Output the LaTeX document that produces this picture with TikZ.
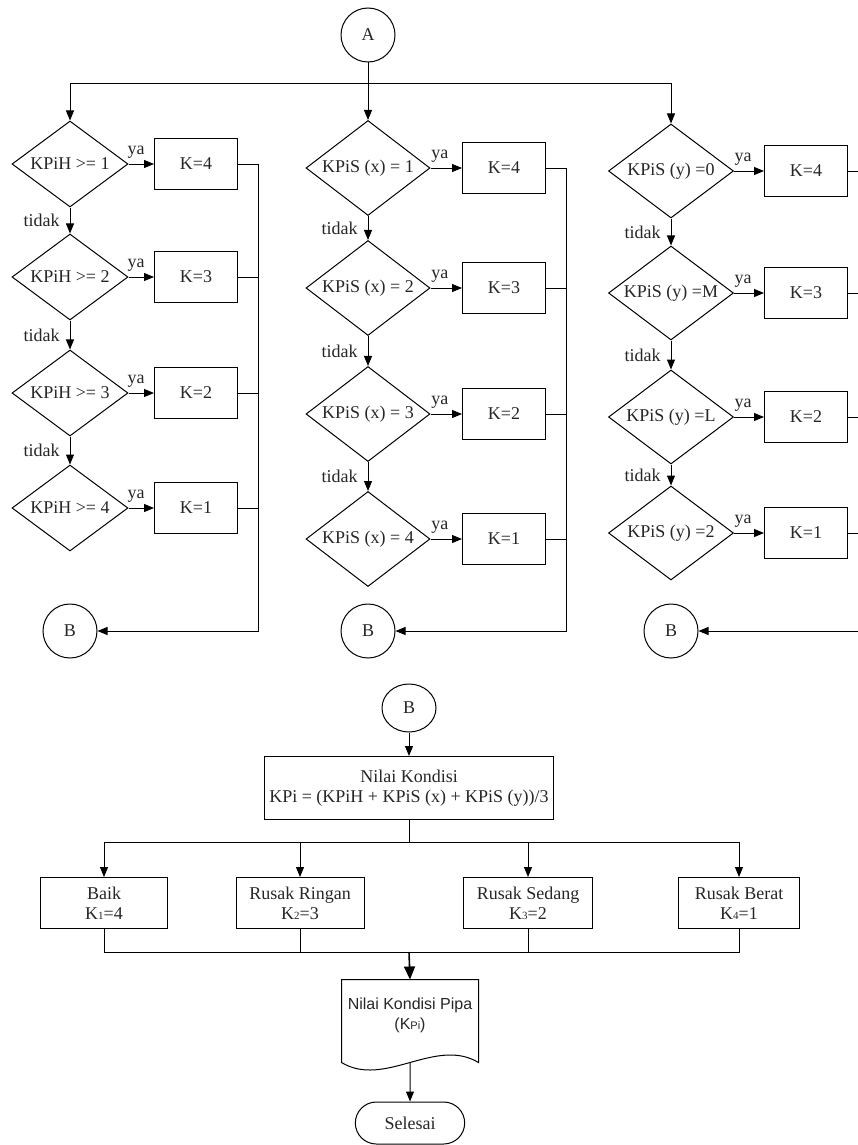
\documentclass[tikz,border=0pt]{standalone}
\usepackage{fontspec}
\setmainfont{Liberation Serif}
\newfontfamily\arialfont{Liberation Sans}
\usetikzlibrary{shapes,arrows.meta}

\newcommand{\dt}[1]{\makebox[0pt]{#1}}
\newcommand{\kecil}[1]{{\fontsize{11}{11}\selectfont #1}}

\tikzset{
	kep/.style={diamond,draw,inner sep=0pt},
	kotak/.style={rectangle,draw,inner sep=2pt,minimum width=83,minimum height=51},
	konektor/.style={circle,draw,inner sep=0pt,minimum size=54},
	ya/.style={above=4pt,inner sep=1pt,pos=.3},
	tidak/.style={left=9pt,inner sep=1pt},
	tebal/.style={line width=1.6pt,-{Triangle[length=13pt,width=11pt]}},
}

\begin{document}
\begin{tikzpicture}[x=1pt,y=-1pt,font=\fontsize{18}{20}\selectfont,text=black!85,line width=1pt,>={Triangle[length=10pt,width=8pt]}]
	\useasboundingbox (0,0) rectangle (858,1145);

	\node[konektor] (A) at (368,35) {A};
	\coordinate (bagi) at (368,84);
	\coordinate (ch) at (258,631);
	\coordinate (csx) at (566,631);
	\coordinate (csy) at (875,631);

	% KPiH
	\foreach \i/\y/\k in {1/164/4,2/277/3,3/393/2,4/508/1} {
		\node[kep,minimum width=116,minimum height=86] (h\i) at (70,\y) {\dt{KPiH >= \i}};
		\node[kotak] (kh\i) at (196,\y) {K=\k};
		\draw[->] (h\i) -- node[ya] {ya} (kh\i);
		\draw (kh\i.east) -- (kh\i.east -| ch);
	}
	% KPiS (x)
	\foreach \i/\y/\k in {1/168/4,2/288/3,3/414/2,4/539/1} {
		\node[kep,minimum width=124,minimum height=95] (sx\i) at (368,\y) {\dt{KPiS (x) = \i}};
		\node[kotak] (ksx\i) at (504,\y) {K=\k};
		\draw[->] (sx\i) -- node[ya] {ya} (ksx\i);
		\draw (ksx\i.east) -- (ksx\i.east -| csx);
	}
	% KPiS (y)
	\foreach \i/\y/\k/\v in {1/171/4/0,2/293/3/M,3/417/2/L,4/533/1/2} {
		\node[kep,minimum width=125,minimum height=94] (sy\i) at (671,\y) {\dt{KPiS (y) =\v}};
		\node[kotak] (ksy\i) at (806,\y) {K=\k};
		\draw[->] (sy\i) -- node[ya] {ya} (ksy\i);
		\draw (ksy\i.east) -- (ksy\i.east -| csy);
	}
	\foreach \i/\j in {1/2,2/3,3/4} {
		\draw[->] (h\i) -- node[tidak] {tidak} (h\j);
		\draw[->] (sx\i) -- node[tidak] {tidak} (sx\j);
		\draw[->] (sy\i) -- node[tidak] {tidak} (sy\j);
	}

	\draw[->] (A) -- (sx1);
	\draw[->] (bagi) -| (h1);
	\draw[->] (bagi) -| (sy1);

	\node[konektor] (B1) at (70,631) {B};
	\node[konektor] (B2) at (368,631) {B};
	\node[konektor] (B3) at (671,631) {B};
	\draw[->] (kh1.east -| ch) -- (ch) -- (B1);
	\draw[->] (ksx1.east -| csx) -- (csx) -- (B2);
	\draw[->] (ksy1.east -| csy) -- (csy) -- (B3);

	% nilai kondisi
	\node[ellipse,draw,inner sep=0pt,minimum width=54,minimum height=48] (B4) at (409,708) {B};
	\node[kotak,minimum width=289,minimum height=63,align=center] (nilai) at (409,788) {Nilai Kondisi\\KPi = (KPiH + KPiS (x) + KPiS (y))/3};
	\draw[->] (B4) -- (nilai);
	\coordinate (bagi2) at (409,842);
	\coordinate (kumpul) at (409,952);
	\draw (nilai) -- (bagi2);

	\foreach \n/\x/\w/\a/\b/\c in {k1/104/127/Baik/1/4,k2/300/128/Rusak Ringan/2/3,k3/528/129/Rusak Sedang/3/2,k4/739/121/Rusak Berat/4/1} {
		\node[kotak,minimum width=\w,minimum height=51,align=center] (\n) at (\x,903) {\a\\K\kecil{\b}=\c};
		\draw[->] (bagi2) -| (\n);
		\draw (\n.south) |- (kumpul);
	}

	\node[inner sep=0pt,minimum width=136,minimum height=70,align=center,font=\arialfont\fontsize{16}{20}\selectfont] (doc) at (410,1015) {Nilai Kondisi Pipa\\(K\kecil{Pi})};
	\draw (doc.north west) -- (doc.north east) -- ([yshift=-12pt]doc.south east) .. controls +(-43,-26) and +(43,26) .. ([yshift=-12pt]doc.south west) -- cycle;
	\draw[tebal] (kumpul) -- (doc.north);

	\node[rounded rectangle,draw,minimum width=116,minimum height=42] (selesai) at (410,1123) {Selesai};
	\draw[->] ([yshift=-12pt]doc.south) -- (selesai);
\end{tikzpicture}
\end{document}
